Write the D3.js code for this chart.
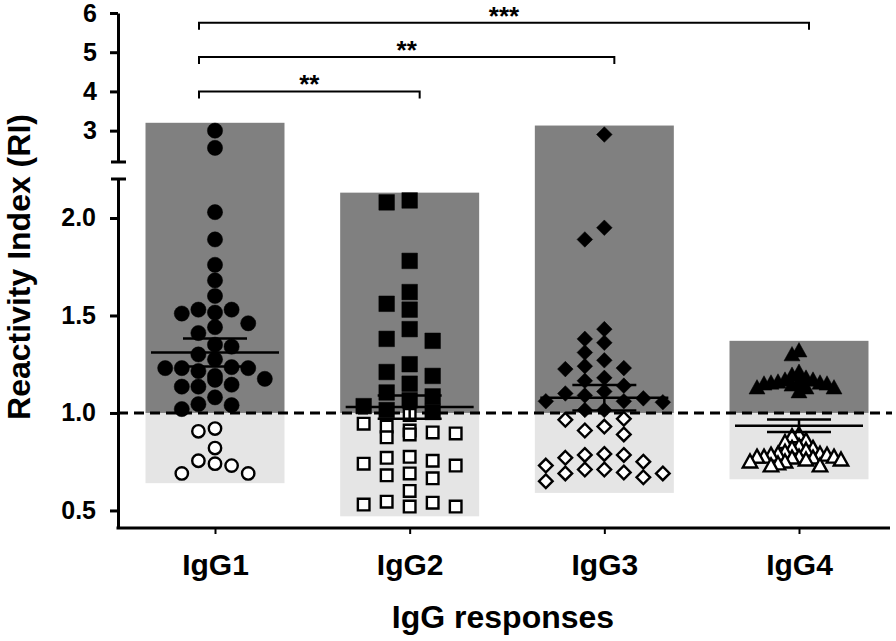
<!DOCTYPE html>
<html><head><meta charset="utf-8">
<script src="https://cdn.jsdelivr.net/npm/d3@7"></script>
<style>
body{margin:0;background:#fff}
svg{display:block}
text{font-family:"Liberation Sans",Arial,Helvetica,sans-serif;font-weight:bold;fill:#000}
</style>
</head><body>
<svg id="c" width="896" height="641"></svg>
<script>
// ---------------- DATA ----------------
const categories = ["IgG1", "IgG2", "IgG3", "IgG4"];
const yTicksUpper = [3, 4, 5, 6];
const yTicksLower = [0.5, 1.0, 1.5, 2.0];
const cutoff = 1.0;

// responders (RI >= 1, filled) and non-responders (RI < 1, open)
const igg1Pos = [3.0, 2.56, 2.03, 1.89, 1.76, 1.68, 1.60, 1.51, 1.53, 1.515, 1.53, 1.46, 1.44, 1.41, 1.35, 1.34, 1.275, 1.30, 1.23, 1.215, 1.23, 1.235, 1.23, 1.19, 1.17, 1.175, 1.135, 1.135, 1.145, 1.08, 1.04, 1.045, 1.02];
const igg1Neg = [0.906, 0.92, 0.82, 0.755, 0.74, 0.73, 0.69, 0.69];
const igg2Pos = [2.08, 2.09, 1.78, 1.62, 1.56, 1.53, 1.43, 1.37, 1.38, 1.25, 1.21, 1.19, 1.15, 1.105, 1.085, 1.065, 1.035, 1.005, 1.015];
const igg2Neg = [0.99, 0.90, 0.895, 0.91, 0.93, 0.945, 0.875, 0.89, 0.73, 0.755, 0.665, 0.68, 0.77, 0.69, 0.775, 0.74, 0.60, 0.53, 0.52, 0.545, 0.52, 0.54];
const igg3Pos = [2.90, 1.95, 1.89, 1.43, 1.36, 1.38, 1.31, 1.27, 1.24, 1.225, 1.23, 1.165, 1.18, 1.14, 1.10, 1.11, 1.09, 1.075, 1.055, 1.06, 1.06, 1.015, 1.015];
const igg3Neg = [0.97, 0.965, 0.93, 0.91, 0.89, 0.77, 0.79, 0.785, 0.785, 0.75, 0.69, 0.71, 0.69, 0.71, 0.73, 0.65, 0.695, 0.67];
const igg4Pos = [1.32, 1.30, 1.155, 1.17, 1.16, 1.195, 1.21, 1.13, 1.145, 1.155, 1.13, 1.11, 1.17, 1.18, 1.16, 1.15, 1.15, 1.13];
const igg4Neg = [0.88, 0.89, 0.86, 0.85, 0.83, 0.76, 0.79, 0.775, 0.80, 0.82, 0.785, 0.73, 0.75, 0.77, 0.74, 0.775, 0.775, 0.75, 0.77, 0.775, 0.785, 0.79, 0.82, 0.73, 0.76, 0.81];

// group range (shaded boxes), mean and SEM
const rangeMax = [3.2, 2.13, 3.13, 1.37];
const rangeMin = [0.64, 0.47, 0.59, 0.66];
const means = [1.31, 1.03, 1.078, 0.935];
const sems = [0.072, 0.06, 0.065, 0.032];

// significance brackets
const bracketFrom = ["IgG1", "IgG1", "IgG1"];
const bracketTo = ["IgG2", "IgG3", "IgG4"];
const bracketLevel = [4.0, 4.88, 5.75];
const bracketLabel = ["**", "**", "***"];

// ---------------- LAYOUT ----------------
const svg = d3.select("#c");
const x = d3.scalePoint().domain(categories).range([215, 799]);
const step = x.step();
const boxW = step * 0.714;
const yUp = d3.scaleLinear().domain([2.2, 6]).range([162, 13]);
const yLo = d3.scaleLinear().domain([0.41, 2.2]).range([528, 179]);
const y = v => v > 2.2 ? yUp(v) : yLo(v);
const axisX = 118;

// shaded boxes
const boxes = svg.append("g");
categories.forEach((c, i) => {
  boxes.append("rect").attr("x", x(c) - boxW / 2).attr("width", boxW)
    .attr("y", y(rangeMax[i])).attr("height", y(cutoff) - y(rangeMax[i]))
    .attr("fill", "#808080");
  boxes.append("rect").attr("x", x(c) - boxW / 2).attr("width", boxW)
    .attr("y", y(cutoff)).attr("height", y(rangeMin[i]) - y(cutoff))
    .attr("fill", "#e5e5e5");
});

// dashed cutoff
svg.append("line").attr("x1", axisX).attr("x2", 892)
  .attr("y1", y(cutoff)).attr("y2", y(cutoff))
  .attr("stroke", "#000").attr("stroke-width", 3).attr("stroke-dasharray", "10,6");

// marker shapes
const shapes = {
  circle: r => `M${-r},0A${r},${r} 0 1,0 ${r},0A${r},${r} 0 1,0 ${-r},0Z`,
  square: r => `M${-r},${-r}H${r}V${r}H${-r}Z`,
  diamond: r => `M0,${-r}L${r},0L0,${r}L${-r},0Z`,
  triangle: r => `M0,${-r}L${r*1.0},${r*0.8}L${-r*1.0},${r*0.8}Z`
};
const groupCfg = [
  {pos: igg1Pos, neg: igg1Neg, shape: "circle", rf: 7.6, ro: 6.2, s: 16.6, dy: 14},
  {pos: igg2Pos, neg: igg2Neg, shape: "square", rf: 7.8, ro: 5.8, s: 23, dy: 14},
  {pos: igg3Pos, neg: igg3Neg, shape: "diamond", rf: 7.8, ro: 6.8, s: 19.5, dy: 13},
  {pos: igg4Pos, neg: igg4Neg, shape: "triangle", rf: 8, ro: 7.2, s: 7, dy: 9}
];

// simple deterministic beeswarm
function swarm(vals, s, dy, maxOff) {
  const pts = vals.map(v => ({v, py: y(v)})).sort((a, b) => a.py - b.py);
  const placed = [];
  const cands = [0];
  for (let k = 1; k * s / 2 <= maxOff; k++) { cands.push(-k * s / 2, k * s / 2); }
  pts.forEach(p => {
    let best = null, bestScore = Infinity;
    for (const o of cands) {
      let hits = 0;
      for (const q of placed) {
        if (Math.abs(q.ox - o) < s * 0.98 && Math.abs(q.py - p.py) < dy) hits++;
      }
      if (hits === 0) { best = o; bestScore = 0; break; }
      if (hits < bestScore) { bestScore = hits; best = o; }
    }
    p.ox = best;
    placed.push(p);
  });
  return pts;
}

const marks = svg.append("g");
categories.forEach((c, i) => {
  const g = groupCfg[i];
  const all = g.pos.concat(g.neg);
  const sw = swarm(all, g.s, g.dy, boxW / 2 - 8);
  sw.forEach(p => {
    const filled = p.v >= cutoff;
    marks.append("path")
      .attr("d", shapes[g.shape](filled ? g.rf : g.ro))
      .attr("transform", `translate(${x(c) + p.ox},${p.py})`)
      .attr("fill", filled ? "#000" : "#fff")
      .attr("stroke", "#000").attr("stroke-width", filled ? 0.5 : 2.4);
  });
});

// mean and SEM
const stats = svg.append("g").attr("stroke", "#000").attr("stroke-width", 2.5);
categories.forEach((c, i) => {
  const cx = x(c);
  stats.append("line").attr("x1", cx - 64).attr("x2", cx + 64).attr("y1", y(means[i])).attr("y2", y(means[i]));
  stats.append("line").attr("x1", cx - 32).attr("x2", cx + 32).attr("y1", y(means[i] + sems[i])).attr("y2", y(means[i] + sems[i]));
  stats.append("line").attr("x1", cx - 32).attr("x2", cx + 32).attr("y1", y(means[i] - sems[i])).attr("y2", y(means[i] - sems[i]));
  stats.append("line").attr("x1", cx).attr("x2", cx).attr("y1", y(means[i] + sems[i])).attr("y2", y(means[i] - sems[i]));
});

// axes
const styleAxis = g => {
  g.selectAll(".domain").attr("stroke-width", 3);
  g.selectAll(".tick line").attr("stroke-width", 3);
  g.selectAll(".tick text").attr("font-size", 25).attr("font-family", "Liberation Sans, Arial, sans-serif").attr("font-weight", "bold");
};
svg.append("g").attr("transform", `translate(${axisX},0)`)
  .call(d3.axisLeft(yUp).tickValues(yTicksUpper).tickSize(8).tickPadding(13).tickSizeOuter(0).tickFormat(d3.format("d")))
  .call(styleAxis);
svg.append("g").attr("transform", `translate(${axisX},0)`)
  .call(d3.axisLeft(yLo).tickValues(yTicksLower).tickSize(8).tickPadding(14).tickSizeOuter(0).tickFormat(d3.format(".1f")))
  .call(styleAxis);
// break caps
[yUp.range()[0], yLo.range()[1]].forEach(yy => {
  svg.append("line").attr("x1", axisX - 7).attr("x2", axisX + 8).attr("y1", yy).attr("y2", yy)
    .attr("stroke", "#000").attr("stroke-width", 3);
});
// x axis
const xa = svg.append("g").attr("transform", `translate(0,${yLo.range()[0]})`)
  .call(d3.axisBottom(x).tickSize(6).tickPadding(20).tickSizeOuter(0));
xa.select(".domain").remove();
xa.selectAll(".tick line").attr("stroke-width", 2);
xa.selectAll(".tick text").attr("font-size", 30).attr("font-family", "Liberation Sans, Arial, sans-serif").attr("font-weight", "bold");
svg.append("line").attr("x1", axisX - 1.5).attr("x2", 890).attr("y1", yLo.range()[0]).attr("y2", yLo.range()[0])
  .attr("stroke", "#000").attr("stroke-width", 3);

// titles
svg.append("text").attr("transform", `translate(30,267) rotate(-90)`)
  .attr("text-anchor", "middle").attr("font-size", 32).text("Reactivity Index (RI)");
svg.append("text").attr("x", 503).attr("y", 628).attr("text-anchor", "middle")
  .attr("font-size", 32).text("IgG responses");

// brackets
const br = svg.append("g");
bracketFrom.forEach((f, i) => {
  const x1 = x(f) - 16, x2 = x(bracketTo[i]) + 10, yy = yUp(bracketLevel[i]);
  br.append("path").attr("d", `M${x1},${yy + 7}V${yy}H${x2}V${yy + 7}`)
    .attr("fill", "none").attr("stroke", "#000").attr("stroke-width", 2);
  br.append("text").attr("x", (x1 + x2) / 2).attr("y", yy + 2).attr("text-anchor", "middle")
    .attr("font-size", 26).text(bracketLabel[i]);
});
</script>
</body></html>
